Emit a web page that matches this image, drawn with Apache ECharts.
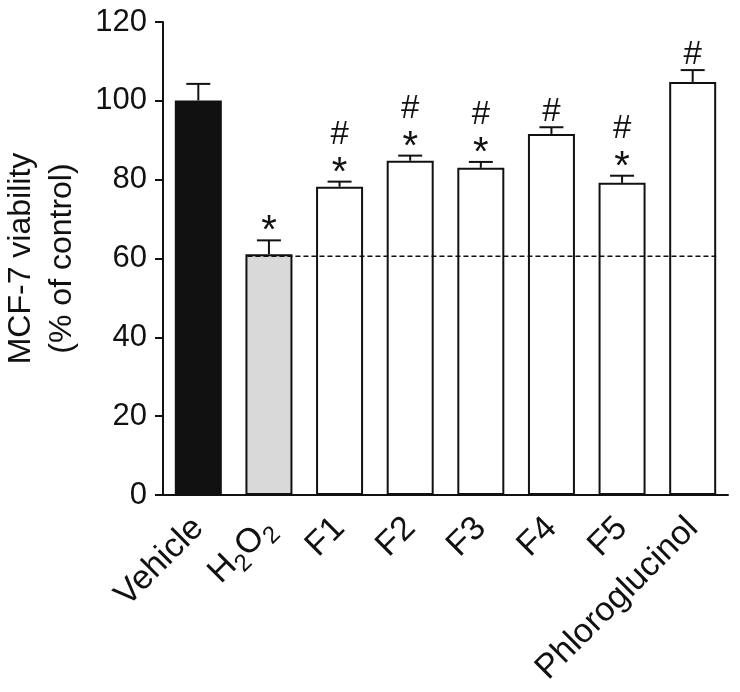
<!DOCTYPE html>
<html><head><meta charset="utf-8">
<script src="https://cdn.jsdelivr.net/npm/echarts@6/dist/echarts.min.js"></script>
<style>html,body{margin:0;padding:0;background:#fff}#c{width:740px;height:692px}</style>
</head><body><div id="c"></div>
<script>
// ---- data ----
const categories = ['Vehicle', 'H2O2', 'F1', 'F2', 'F3', 'F4', 'F5', 'Phloroglucinol'];
const means = [100.1, 61.1, 78.2, 84.8, 83.0, 91.6, 79.2, 104.8];
const errors = [4.2, 3.5, 1.3, 1.3, 1.5, 1.7, 1.8, 3.0];
const starMarks = ['', '*', '*', '*', '*', '', '*', ''];
const hashMarks = ['', '', '#', '#', '#', '#', '#', '#'];
const yTickLabels = ['0', '20', '40', '60', '80', '100', '120'];
const referenceLine = 60.6;

// ---- styles ----
const FONT = '"Liberation Sans", Arial, Helvetica, sans-serif';
const fills = ['#111111', '#d9d9d9', '#ffffff', '#ffffff', '#ffffff', '#ffffff', '#ffffff', '#ffffff'];
const BAR_W = 47;

const chart = echarts.init(document.getElementById('c'), null, {renderer: 'canvas'});

const barData = means.map((v, i) => ({
  value: v,
  itemStyle: {color: fills[i], borderColor: '#111', borderWidth: 2}
}));
const errData = means.map((v, i) => [i, v, errors[i]]);
const annData = means.map((v, i) => [i, v + errors[i], i]);

const option = {
  backgroundColor: '#ffffff',
  animation: false,
  grid: {left: 163, right: 12, top: 22, bottom: 197, containLabel: false, outerBoundsMode: 'none'},
  xAxis: {
    type: 'category',
    data: categories,
    axisLine: {lineStyle: {color: '#111', width: 2}},
    axisTick: {alignWithLabel: true, length: 10, lineStyle: {color: '#111', width: 2}},
    axisLabel: {
      rotate: 45, margin: 28, color: '#111', fontSize: 34, fontFamily: FONT,
      interval: 0,
      formatter: v => v === 'H2O2' ? '{n|H}{s|2}{n|O}{s|2}' : v,
      rich: {
        n: {fontSize: 34, fontFamily: FONT, color: '#111'},
        s: {fontSize: 24, fontFamily: FONT, color: '#111', padding: [22, 0, 0, 0]}
      }
    }
  },
  yAxis: {
    type: 'value', min: 0, max: 120, interval: 20,
    name: 'MCF-7 viability\n(% of control)',
    nameLocation: 'middle', nameGap: 80, nameRotate: 90,
    nameTextStyle: {fontSize: 32, fontFamily: FONT, color: '#111', lineHeight: 41},
    axisLine: {show: true, lineStyle: {color: '#111', width: 2}},
    axisTick: {show: true, length: 8, lineStyle: {color: '#111', width: 2}},
    splitLine: {show: false},
    axisLabel: {
      color: '#111', fontSize: 31, fontFamily: FONT, margin: 16,
      formatter: v => yTickLabels[Math.round(v / 20)]
    }
  },
  series: [
    {
      type: 'bar', data: barData, barWidth: BAR_W, z: 2
    },
    {
      type: 'custom', z: 3,
      data: errData,
      renderItem: (params, api) => {
        const x = api.value(0), y = api.value(1), e = api.value(2);
        const p0 = api.coord([x, y]);
        const p1 = api.coord([x, y + e]);
        const st = {stroke: '#111', lineWidth: 2};
        return {type: 'group', children: [
          {type: 'line', shape: {x1: p0[0], y1: p0[1], x2: p1[0], y2: p1[1]}, style: st},
          {type: 'line', shape: {x1: p1[0] - 12, y1: p1[1], x2: p1[0] + 12, y2: p1[1]}, style: st}
        ]};
      }
    },
    {
      type: 'custom', z: 4,
      data: [[1, referenceLine]],
      renderItem: (params, api) => {
        const a = api.coord([1, api.value(1)]);
        const b = api.coord([categories.length - 1, api.value(1)]);
        return {type: 'line', shape: {x1: a[0] - BAR_W / 2 + 2, y1: a[1], x2: b[0] + BAR_W / 2, y2: b[1]},
          style: {stroke: '#111', lineWidth: 1.5, lineDash: [5, 3]}};
      }
    },
    {
      type: 'custom', z: 5,
      data: annData,
      renderItem: (params, api) => {
        const i = api.value(2);
        const p = api.coord([api.value(0), api.value(1)]);
        const kids = [];
        let hashCy;
        if (starMarks[i]) {
          const cy = p[1] - 17;
          kids.push({type: 'text', style: {text: starMarks[i], x: p[0], y: cy + 9, align: 'center', verticalAlign: 'middle',
            fontSize: 40, fontFamily: FONT, fill: '#111'}});
          hashCy = cy - 32;
        } else {
          hashCy = p[1] - 17;
        }
        if (hashMarks[i]) {
          kids.push({type: 'text', style: {text: hashMarks[i], x: p[0], y: hashCy + 2, align: 'center', verticalAlign: 'middle',
            fontSize: 33, fontFamily: FONT, fill: '#111'}});
        }
        return {type: 'group', children: kids};
      }
    }
  ]
};
chart.setOption(option);
</script>
</body></html>
